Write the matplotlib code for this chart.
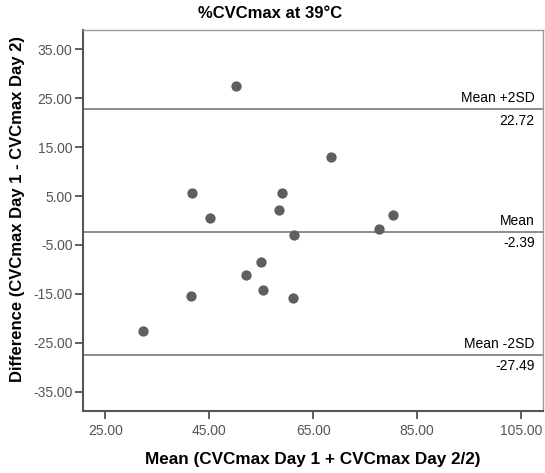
import matplotlib
matplotlib.use('Agg')
import matplotlib.pyplot as plt
from matplotlib.ticker import FormatStrFormatter

plt.rcParams['font.family'] = ['Liberation Sans', 'DejaVu Sans']

# Bland-Altman data
mean_vals = [50.1, 68.5, 41.6, 58.9, 45.1, 58.4, 80.3, 77.6, 61.3, 54.9,
             52.1, 55.4, 41.4, 61.1, 32.2]
diff_vals = [27.6, 13.0, 5.6, 5.6, 0.6, 2.1, 1.1, -1.7, -3.0, -8.4,
             -11.2, -14.2, -15.4, -15.8, -22.6]

mean_diff = -2.39
upper_loa = 22.72
lower_loa = -27.49

x_ticks = [25, 45, 65, 85, 105]
y_ticks = [35, 25, 15, 5, -5, -15, -25, -35]

fig = plt.figure(figsize=(5.45, 4.73), dpi=100)
ax = fig.add_axes([83 / 545, 62 / 473, 460 / 545, 381 / 473])

ax.scatter(mean_vals, diff_vals, s=55, color='#5f5f5f', zorder=3, linewidths=0)

lines = [(upper_loa, 'Mean +2SD', '%.2f' % upper_loa),
         (mean_diff, 'Mean', '%.2f' % mean_diff),
         (lower_loa, 'Mean -2SD', '%.2f' % lower_loa)]
for yv, name, val in lines:
    ax.axhline(yv, color='#8c8c8c', lw=1.4, zorder=2)
    ax.annotate(name, (1, yv), xycoords=('axes fraction', 'data'),
                xytext=(-6, 3), textcoords='offset points',
                ha='right', va='bottom', fontsize=10, color='black')
    ax.annotate(val, (1, yv), xycoords=('axes fraction', 'data'),
                xytext=(-6, -3), textcoords='offset points',
                ha='right', va='top', fontsize=10, color='black')

ax.set_xlim(20.7, 109.2)
ax.set_ylim(-38.95, 38.95)
ax.set_xticks(x_ticks)
ax.set_yticks(y_ticks)
ax.xaxis.set_major_formatter(FormatStrFormatter('%.2f'))
ax.yaxis.set_major_formatter(FormatStrFormatter('%.2f'))
ax.tick_params(length=6, width=1.2, color='#444444', labelcolor='#555555',
               labelsize=10)
ax.tick_params(axis='y', pad=1.5)
ax.tick_params(axis='x', pad=3)

for side in ['top', 'right']:
    ax.spines[side].set_color('#9a9a9a')
    ax.spines[side].set_linewidth(1.0)
for side in ['left', 'bottom']:
    ax.spines[side].set_color('#555555')
    ax.spines[side].set_linewidth(1.5)

ax.set_xlabel('Mean (CVCmax Day 1 + CVCmax Day 2/2)', fontsize=12.3,
              fontweight='bold', va='center')
ax.set_ylabel('Difference (CVCmax Day 1 - CVCmax Day 2)', fontsize=12,
              fontweight='bold', va='center')
ax.xaxis.set_label_coords(0.5, (411 - 459) / 381)
ax.yaxis.set_label_coords((18 - 83) / 460, (411 - 209) / 381)
fig.text(270 / 545, 1 - 14 / 473, '%CVCmax at 39°C', ha='center', va='center',
         fontsize=12, fontweight='bold')

fig.savefig('out.png', dpi=100)
